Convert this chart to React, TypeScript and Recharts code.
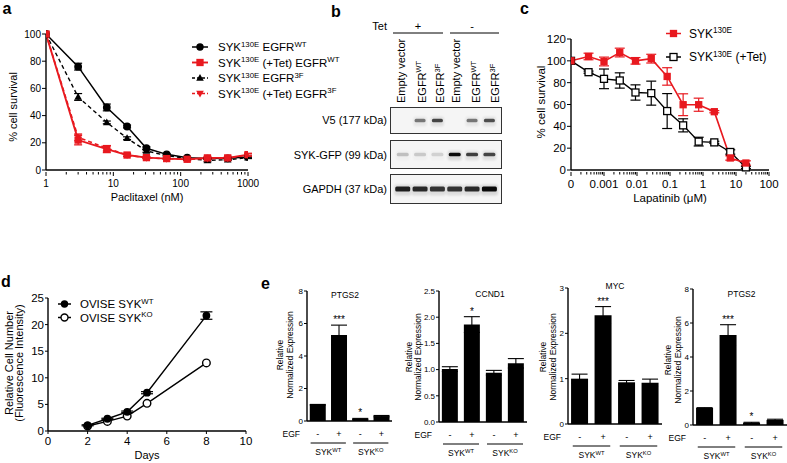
import React from 'react';
import { LineChart, Line, XAxis, YAxis, ErrorBar, BarChart, Bar, LabelList } from 'recharts';

const FONT = '"Liberation Sans", Arial, Helvetica, sans-serif';
const RED = '#e8191f';
const AX = { stroke: '#000', strokeWidth: 1.4 };

// a: paclitaxel dose response
const paclitaxelNM = [1, 3, 8, 16, 31, 62, 125, 250, 500, 1000];
const wtSurv = [100, 76, 46, 32, 16, 11.5, 9, 8.4, 8.6, 9.6];
const wtSurvErr = [0, 2.5, 2.5, 1, 1, 0.6, 0.5, 0.5, 0.5, 0.6];
const wtTetSurv = [100, 22, 15.3, 11, 9.1, 8.4, 7.9, 8.9, 8.9, 11.3];
const wtTetSurvErr = [0, 3.5, 2.5, 1, 0.6, 0.5, 1, 1, 0.6, 1];
const f3Surv = [100, 53.7, 35, 23.4, 14, 10.6, 8.6, 7, 7.6, 9];
const f3SurvErr = [0, 2.5, 1, 1, 1, 0.5, 0.5, 1, 0.6, 0.6];
const f3TetSurv = [100, 24, 16, 11, 9, 8.3, 8, 8.5, 8.7, 11];
const f3TetSurvErr = [0, 2.5, 2, 1, 0.6, 0.5, 0.6, 0.6, 0.6, 0.8];

// b: western blot lanes / band intensity
const lanes = ['Empty vector', 'EGFR WT', 'EGFR 3F', 'Empty vector ', 'EGFR WT ', 'EGFR 3F '];
const v5Band = [0, 0.5, 0.72, 0, 0.5, 0.68];
const sykGfpBand = [0.2, 0.16, 0.13, 1, 0.75, 0.72];
const gapdhBand = [0.9, 0.85, 0.8, 0.8, 0.85, 1];

// c: lapatinib dose response
const lapatinibUM = [0, 0.00034, 0.001, 0.003, 0.009, 0.027, 0.082, 0.25, 0.74, 2.2, 6.7, 20];
const sykSurv = [100, 104, 99.4, 107.6, 100, 102, 85.7, 59.8, 59.8, 53.4, 11, 6.4];
const sykSurvErr = [0, 3, 4, 4, 3, 4, 8, 10, 6, 1, 2, 2];
const sykTetSurv = [100, 89.6, 83.5, 82, 71, 70.4, 54, 40.9, 26, 25.3, 16.5, 2.4];
const sykTetSurvErr = [0, 1, 9, 7, 7, 11, 16, 6, 4, 1, 2, 1];
const ZERO_AT = 0.0001; // where "0" sits on the log axis

// d: growth
const days = [2, 3, 4, 5, 8];
const oviseWt = [1.07, 2.3, 3.6, 7.2, 21.7];
const oviseWtErr = [0.1, 0.1, 0.15, 0.2, 0.7];
const oviseKo = [0.95, 1.8, 2.8, 5.2, 12.8];

// e: qPCR
const egf = ['-', '+', '-', '+'];
const sykGroup = ['WT', 'WT', 'KO', 'KO'];
const ptgs2 = [1.0, 5.3, 0.13, 0.3];
const ptgs2Err = [0.02, 0.6, 0.03, 0.04];
const ptgs2Sig = ['', '***', '*', ''];
const ccnd1 = [1.01, 1.86, 0.94, 1.12];
const ccnd1Err = [0.045, 0.15, 0.045, 0.09];
const ccnd1Sig = ['', '*', '', ''];
const myc = [1.0, 2.4, 0.92, 0.91];
const mycErr = [0.1, 0.19, 0.04, 0.08];
const mycSig = ['', '***', '', ''];

type MarkFn = (cx: number, cy: number) => React.ReactNode;
const circle = (fill: string, r = 3.2): MarkFn => (cx, cy) => (
  <circle cx={cx} cy={cy} r={r} fill={fill} stroke="#000" strokeWidth={1.4} />
);
const square = (fill: string, stroke: string, s = 6.5): MarkFn => (cx, cy) => (
  <rect x={cx - s / 2} y={cy - s / 2} width={s} height={s} fill={fill} stroke={stroke} strokeWidth={1.3} />
);
const triUp = (c: string): MarkFn => (cx, cy) => (
  <path d={`M${cx},${cy - 4} L${cx + 3.8},${cy + 2.8} L${cx - 3.8},${cy + 2.8}Z`} fill={c} />
);
const triDown = (c: string): MarkFn => (cx, cy) => (
  <path d={`M${cx},${cy + 4} L${cx + 3.8},${cy - 2.8} L${cx - 3.8},${cy - 2.8}Z`} fill={c} />
);
const asDot = (m: MarkFn) => (p: any) => <g key={`d${p.index}`}>{m(p.cx, p.cy)}</g>;

const isDecade = (v: number) => Math.abs(Math.log10(v) - Math.round(Math.log10(v))) < 1e-6;
const logTicks = (lo: number, hi: number) => {
  const t: number[] = [];
  for (let e = lo; e < hi; e++) for (let m = 1; m < 10; m++) t.push(m * 10 ** e);
  t.push(10 ** hi);
  return t;
};
const logTick = (fontSize: number, dy: number, fmt: (v: number) => string) => (p: any) => {
  const v = p.payload.value;
  const major = isDecade(v);
  return (
    <g key={`t${p.index}`}>
      <line x1={p.x} x2={p.x} y1={p.y} y2={p.y + (major ? 4 : 2.5)} stroke="#000" strokeWidth={1} />
      {major && (
        <text x={p.x} y={p.y + dy} textAnchor="middle" fontSize={fontSize} fontFamily={FONT} fill="#000">
          {fmt(v)}
        </text>
      )}
    </g>
  );
};

type Part = [string, string?];
const RichText = ({ x, y, parts, size, anchor = 'start', transform, weight }: any) => {
  const shift = size * 0.4;
  const out: React.ReactNode[] = [];
  let raised = false;
  parts.forEach(([base, sup]: Part, i: number) => {
    out.push(<tspan key={`b${i}`} dy={raised ? shift : 0}>{base}</tspan>);
    raised = false;
    if (sup) {
      out.push(<tspan key={`s${i}`} dy={-shift} fontSize={size * 0.68}>{sup}</tspan>);
      raised = true;
    }
  });
  return (
    <text x={x} y={y} fontSize={size} fontFamily={FONT} textAnchor={anchor} transform={transform} fontWeight={weight} fill="#000">
      {out}
    </text>
  );
};

const LegendItem = ({ x, y, w, mark, color, dash, textX, size, parts, lw = 1.5 }: any) => (
  <g>
    <line x1={x} x2={x + w} y1={y} y2={y} stroke={color} strokeWidth={lw} strokeDasharray={dash} />
    {mark(x + w / 2, y)}
    <RichText x={textX} y={y + size * 0.36} parts={parts} size={size} />
  </g>
);

const yTick = (fs: number) => ({ fontSize: fs, fill: '#000', fontFamily: FONT });

// ---- blot row
const BlotRow = ({ bands, top, height, bandW, bandH }: any) => {
  const rows = lanes.map((l, i) => ({ lane: l, level: bands[i] }));
  const h = height - 2;
  return (
    <div style={{ position: 'absolute', left: 390, top, width: 112, height, border: '1.2px solid #333', boxSizing: 'border-box', background: '#f5f5f5' }}>
      <BarChart width={110} height={h} data={rows} margin={{ top: 0, right: 3, bottom: 0, left: 3 }}>
        <XAxis dataKey="lane" hide />
        <YAxis hide domain={[0, 1]} />
        <Bar
          dataKey="level"
          isAnimationActive={false}
          shape={(p: any) => {
            const cx = p.x + p.width / 2;
            const lv = p.payload.level;
            return (
              <g key={`band${p.index}`}>
                <rect x={cx - bandW / 2 - 1} y={h / 2 - bandH / 2 - 2} width={bandW + 2} height={bandH + 6} rx={2} fill="#222" opacity={lv * 0.14} style={{ filter: 'blur(1.3px)' }} />
                <rect x={cx - bandW / 2} y={h / 2 - bandH / 2} width={bandW} height={bandH} rx={1.5} fill="#0a0a0a" opacity={lv} style={{ filter: 'blur(0.7px)' }} />
              </g>
            );
          }}
        />
      </BarChart>
    </div>
  );
};

// ---- qPCR bar panel
const E_TOP = 270;
const BarPanel = ({ ax, topY, zeroY, endX, max, ticks, fmt, values, errs, sig }: any) => {
  const yW = 30;
  const rows = egf.map((e, i) => ({ key: `${sykGroup[i]}${e}`, v: values[i], err: errs[i], sig: sig[i] }));
  const step = (endX - ax) / 4;
  const egfTick = (p: any) => {
    const i = p.index;
    const x = p.x;
    const y = p.y;
    return (
      <g key={`e${i}`}>
        <text x={x} y={y + 14} textAnchor="middle" fontSize={9} fontFamily={FONT} fill="#000">{egf[i]}</text>
        {i === 0 && (
          <text x={yW - 7} y={y + 14} textAnchor="end" fontSize={8.5} fontFamily={FONT} fill="#000">EGF</text>
        )}
        {i % 2 === 0 && (
          <g>
            <line x1={x - 7} x2={x + step + 7} y1={y + 20} y2={y + 20} stroke="#000" strokeWidth={1} />
            <RichText x={x + step / 2} y={y + 32} parts={[['SYK', sykGroup[i]]]} size={8.5} anchor="middle" />
          </g>
        )}
      </g>
    );
  };
  const star = (p: any) => {
    if (!p.value) return null;
    const i = p.index ?? 0;
    const errPx = (errs[i] * p.height) / values[i];
    return (
      <text key={`s${i}`} x={p.x + p.width / 2} y={p.y - errPx - 2} textAnchor="middle" fontSize={10} fontFamily={FONT} fill="#000">
        {p.value}
      </text>
    );
  };
  return (
    <div style={{ position: 'absolute', left: ax - yW, top: E_TOP }}>
      <BarChart width={endX - ax + yW} height={zeroY - E_TOP + 42} data={rows} margin={{ top: topY - E_TOP, right: 0, bottom: 0, left: 0 }} barCategoryGap="13%">
        <XAxis dataKey="key" height={42} tickSize={0} tickLine={false} axisLine={AX} interval={0} tick={egfTick} />
        <YAxis width={yW} type="number" domain={[0, max]} ticks={ticks} tickFormatter={fmt} tickSize={3} tickMargin={1} axisLine={AX} tickLine={{ stroke: '#000' }} tick={yTick(8)} allowDataOverflow interval={0} />
        <Bar dataKey="v" fill="#000" isAnimationActive={false}>
          <ErrorBar dataKey="err" width={8} stroke="#000" strokeWidth={1.1} />
          <LabelList dataKey="sig" content={star} />
        </Bar>
      </BarChart>
    </div>
  );
};

export default function App() {
  const aRows = paclitaxelNM.map((d, i) => ({
    dose: d,
    wt: wtSurv[i], wtErr: wtSurvErr[i],
    wtTet: wtTetSurv[i], wtTetErr: wtTetSurvErr[i],
    f3: f3Surv[i], f3Err: f3SurvErr[i],
    f3Tet: f3TetSurv[i], f3TetErr: f3TetSurvErr[i],
  }));
  const cRows = lapatinibUM.map((d, i) => ({
    dose: d === 0 ? ZERO_AT : d,
    syk: sykSurv[i], sykErr: sykSurvErr[i],
    tet: sykTetSurv[i], tetErr: sykTetSurvErr[i],
  }));
  const dRows = days.map((d, i) => ({ day: d, wt: oviseWt[i], wtErr: oviseWtErr[i], ko: oviseKo[i] }));

  const legA: Part[][] = [
    [['SYK', '130E'], [' EGFR', 'WT']],
    [['SYK', '130E'], [' (+Tet) EGFR', 'WT']],
    [['SYK', '130E'], [' EGFR', '3F']],
    [['SYK', '130E'], [' (+Tet) EGFR', '3F']],
  ];
  const colLabels: Part[][] = [
    [['Empty vector']], [['EGFR', 'WT']], [['EGFR', '3F']],
    [['Empty vector']], [['EGFR', 'WT']], [['EGFR', '3F']],
  ];
  const colBase = [405, 425.5, 444, 460, 480, 499];

  return (
    <div style={{ position: 'absolute', left: 0, top: 0, width: 787, height: 463, overflow: 'hidden', background: '#fff', fontFamily: FONT }}>
      {/* a */}
      <div style={{ position: 'absolute', left: 0, top: 0 }}>
        <LineChart width={262} height={210} data={aRows} margin={{ top: 34, right: 14, bottom: 0, left: 0 }}>
          <XAxis dataKey="dose" type="number" scale="log" domain={[1, 1000]} allowDataOverflow ticks={logTicks(0, 3)} interval={0} tickSize={0} tickLine={false} axisLine={AX} height={40} tick={logTick(10, 15, (v) => String(Math.round(v)))} />
          <YAxis type="number" domain={[0, 100]} ticks={[0, 20, 40, 60, 80, 100]} width={46} tickSize={4} tickMargin={1} axisLine={AX} tickLine={{ stroke: '#000' }} tick={yTick(10)} interval={0} />
          <Line dataKey="f3" stroke="#000" strokeWidth={1.4} strokeDasharray="4 3" dot={asDot(triUp('#000'))} activeDot={false} isAnimationActive={false}>
            <ErrorBar dataKey="f3Err" width={4} stroke="#000" strokeWidth={1.2} />
          </Line>
          <Line dataKey="wt" stroke="#000" strokeWidth={1.5} dot={asDot(circle('#000'))} activeDot={false} isAnimationActive={false}>
            <ErrorBar dataKey="wtErr" width={4} stroke="#000" strokeWidth={1.2} />
          </Line>
          <Line dataKey="f3Tet" stroke={RED} strokeWidth={1.6} strokeDasharray="4 3" dot={asDot(triDown(RED))} activeDot={false} isAnimationActive={false}>
            <ErrorBar dataKey="f3TetErr" width={4} stroke={RED} strokeWidth={1.2} />
          </Line>
          <Line dataKey="wtTet" stroke={RED} strokeWidth={1.9} dot={asDot(square(RED, RED, 6))} activeDot={false} isAnimationActive={false}>
            <ErrorBar dataKey="wtTetErr" width={4} stroke={RED} strokeWidth={1.3} />
          </Line>
        </LineChart>
      </div>

      {/* b */}
      <BlotRow bands={v5Band} top={107} height={27} bandW={11} bandH={3.5} />
      <BlotRow bands={sykGfpBand} top={140} height={29} bandW={12} bandH={3.5} />
      <BlotRow bands={gapdhBand} top={174} height={30} bandW={15} bandH={5} />

      {/* c */}
      <div style={{ position: 'absolute', left: 520, top: 0 }}>
        <LineChart width={259} height={210} data={cRows} margin={{ top: 39, right: 10, bottom: 0, left: 0 }}>
          <XAxis dataKey="dose" type="number" scale="log" domain={[ZERO_AT, 100]} allowDataOverflow ticks={logTicks(-4, 2)} interval={0} tickSize={0} tickLine={false} axisLine={AX} height={40}
            tick={logTick(11.5, 16, (v) => (v <= ZERO_AT * 1.0001 ? '0' : v >= 1 ? String(Math.round(v)) : String(Number(v.toPrecision(1)))))} />
          <YAxis type="number" domain={[0, 120]} ticks={[0, 20, 40, 60, 80, 100, 120]} width={51} tickSize={4} tickMargin={1} axisLine={AX} tickLine={{ stroke: '#000' }} tick={yTick(11.5)} interval={0} />
          <Line dataKey="tet" stroke="#000" strokeWidth={1.4} dot={asDot(square('#fff', '#000', 7))} activeDot={false} isAnimationActive={false}>
            <ErrorBar dataKey="tetErr" width={5} stroke="#000" strokeWidth={1.2} />
          </Line>
          <Line dataKey="syk" stroke={RED} strokeWidth={1.6} dot={asDot(square(RED, RED, 6))} activeDot={false} isAnimationActive={false}>
            <ErrorBar dataKey="sykErr" width={5} stroke={RED} strokeWidth={1.2} />
          </Line>
        </LineChart>
      </div>

      {/* d */}
      <div style={{ position: 'absolute', left: 0, top: 230 }}>
        <LineChart width={256} height={231} data={dRows} margin={{ top: 68, right: 10, bottom: 0, left: 0 }}>
          <XAxis dataKey="day" type="number" domain={[0, 10]} ticks={[0, 2, 4, 6, 8, 10]} interval={0} tickSize={3} tickMargin={3} axisLine={AX} tickLine={{ stroke: '#000' }} tick={yTick(11.5)} height={30} />
          <YAxis type="number" domain={[0, 25]} ticks={[0, 5, 10, 15, 20, 25]} width={48} tickSize={3} tickMargin={1} axisLine={AX} tickLine={{ stroke: '#000' }} tick={yTick(11.5)} interval={0} />
          <Line dataKey="ko" stroke="#000" strokeWidth={1.4} dot={asDot(circle('#fff', 3.8))} activeDot={false} isAnimationActive={false} />
          <Line dataKey="wt" stroke="#000" strokeWidth={1.4} dot={asDot(circle('#000', 3.2))} activeDot={false} isAnimationActive={false}>
            <ErrorBar dataKey="wtErr" width={6} stroke="#000" strokeWidth={1.2} />
          </Line>
        </LineChart>
      </div>

      {/* e */}
      <BarPanel ax={307} topY={291} zeroY={421} endX={392} max={8} ticks={[0, 2, 4, 6, 8]} fmt={(v: number) => String(v)} values={ptgs2} errs={ptgs2Err} sig={ptgs2Sig} />
      <BarPanel ax={439} topY={291} zeroY={422} endX={527} max={2.5} ticks={[0, 0.5, 1, 1.5, 2, 2.5]} fmt={(v: number) => v.toFixed(1)} values={ccnd1} errs={ccnd1Err} sig={ccnd1Sig} />
      <BarPanel ax={568} topY={288} zeroY={424} endX={662} max={3} ticks={[0, 1, 2, 3]} fmt={(v: number) => String(v)} values={myc} errs={mycErr} sig={mycSig} />
      <BarPanel ax={693} topY={289} zeroY={425} endX={787} max={8} ticks={[0, 2, 4, 6, 8]} fmt={(v: number) => String(v)} values={ptgs2} errs={ptgs2Err} sig={ptgs2Sig} />

      {/* text overlay */}
      <svg width={787} height={463} style={{ position: 'absolute', left: 0, top: 0, pointerEvents: 'none' }}>
        {/* panel letters */}
        <text x={2.5} y={14} fontSize={16} fontWeight="bold" fontFamily={FONT}>a</text>
        <text x={331} y={16.5} fontSize={16} fontWeight="bold" fontFamily={FONT}>b</text>
        <text x={520} y={13.5} fontSize={16} fontWeight="bold" fontFamily={FONT}>c</text>
        <text x={1} y={287} fontSize={16} fontWeight="bold" fontFamily={FONT}>d</text>
        <text x={261} y={288.5} fontSize={16} fontWeight="bold" fontFamily={FONT}>e</text>

        {/* a */}
        <text x={17} y={107} fontSize={11} fontFamily={FONT} textAnchor="middle" transform="rotate(-90 17 107)">% cell survival</text>
        <text x={147} y={200.5} fontSize={11} fontFamily={FONT} textAnchor="middle">Paclitaxel (nM)</text>
        <LegendItem x={192} y={47} w={16} color="#000" mark={circle('#000', 3)} textX={218} size={11.5} parts={legA[0]} />
        <LegendItem x={192} y={62.5} w={16} color={RED} lw={1.9} mark={square(RED, RED, 6)} textX={218} size={11.5} parts={legA[1]} />
        <LegendItem x={192} y={78} w={16} color="#000" dash="3 2" mark={triUp('#000')} textX={218} size={11.5} parts={legA[2]} />
        <LegendItem x={192} y={93.5} w={16} color={RED} dash="3 2" mark={triDown(RED)} textX={218} size={11.5} parts={legA[3]} />

        {/* b */}
        <text x={387} y={30} fontSize={11} fontFamily={FONT} textAnchor="end">Tet</text>
        <text x={418} y={30} fontSize={11} fontFamily={FONT} textAnchor="middle">+</text>
        <text x={472} y={30} fontSize={11} fontFamily={FONT} textAnchor="middle">-</text>
        <line x1={393} x2={443} y1={33} y2={33} stroke="#000" strokeWidth={1} />
        <line x1={450} x2={499} y1={33} y2={33} stroke="#000" strokeWidth={1} />
        {colLabels.map((parts, i) => (
          <RichText key={i} x={colBase[i]} y={103} parts={parts} size={11} transform={`rotate(-90 ${colBase[i]} 103)`} />
        ))}
        <text x={387} y={123.5} fontSize={11} fontFamily={FONT} textAnchor="end">V5 (177 kDa)</text>
        <text x={387} y={158.5} fontSize={11} fontFamily={FONT} textAnchor="end">SYK-GFP (99 kDa)</text>
        <text x={387} y={193} fontSize={11} fontFamily={FONT} textAnchor="end">GAPDH (37 kDa)</text>

        {/* c */}
        <text x={545} y={102} fontSize={11.5} fontFamily={FONT} textAnchor="middle" transform="rotate(-90 545 102)">% cell survival</text>
        <text x={670} y={202} fontSize={11.5} fontFamily={FONT} textAnchor="middle">Lapatinib (μM)</text>
        <LegendItem x={666} y={33.5} w={15} color={RED} mark={square(RED, RED, 6)} textX={689} size={12} parts={[['SYK', '130E']]} />
        <LegendItem x={666} y={57} w={15} color="#000" mark={square('#fff', '#000', 7)} textX={689} size={12} parts={[['SYK', '130E'], [' (+Tet)']]} />

        {/* d */}
        <text x={12.5} y={363} fontSize={11} fontFamily={FONT} textAnchor="middle" transform="rotate(-90 12.5 363)">Relative Cell Number</text>
        <text x={23} y={363} fontSize={11} fontFamily={FONT} textAnchor="middle" transform="rotate(-90 23 363)">(Fluorescence Intensity)</text>
        <text x={147} y={459} fontSize={11} fontFamily={FONT} textAnchor="middle">Days</text>
        <LegendItem x={58} y={304} w={13} color="#000" mark={circle('#000', 3)} textX={80} size={11.5} parts={[['OVISE SYK', 'WT']]} />
        <LegendItem x={58} y={317.5} w={13} color="#000" mark={circle('#fff', 3.5)} textX={80} size={11.5} parts={[['OVISE SYK', 'KO']]} />

        {/* e */}
        {[
          { ax: 307, t: 'PTGS2', tx: 345, ty: 298, l1: 24, cy: 355 },
          { ax: 439, t: 'CCND1', tx: 490, ty: 297, l1: 27.5, cy: 357 },
          { ax: 568, t: 'MYC', tx: 615, ty: 289, l1: 22, cy: 357 },
          { ax: 693, t: 'PTGS2', tx: 741.5, ty: 296.5, l1: 22, cy: 360 },
        ].map((p, i) => (
          <g key={i}>
            <text x={p.tx} y={p.ty} fontSize={8.5} fontFamily={FONT} textAnchor="middle">{p.t}</text>
            <text x={p.ax - p.l1} y={p.cy} fontSize={8.5} fontFamily={FONT} textAnchor="middle" transform={`rotate(-90 ${p.ax - p.l1} ${p.cy})`}>Relative</text>
            <text x={p.ax - p.l1 + 9.5} y={p.cy} fontSize={8.5} fontFamily={FONT} textAnchor="middle" transform={`rotate(-90 ${p.ax - p.l1 + 9.5} ${p.cy})`}>Normalized Expression</text>
          </g>
        ))}
      </svg>
    </div>
  );
}
